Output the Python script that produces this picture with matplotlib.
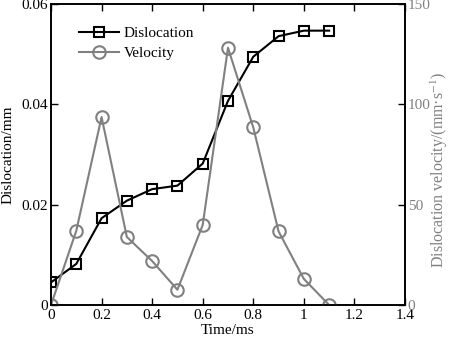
import matplotlib
matplotlib.use("Agg")
import matplotlib.pyplot as plt

plt.rcParams['font.family'] = ['Liberation Serif', 'DejaVu Serif']
plt.rcParams['font.size'] = 11
plt.rcParams['mathtext.fontset'] = 'stix'

time_ms = [0, 0.1, 0.2, 0.3, 0.4, 0.5, 0.6, 0.7, 0.8, 0.9, 1.0, 1.1]
dislocation = [0.0045, 0.0082, 0.0173, 0.0208, 0.0231, 0.0238, 0.0282,
               0.0407, 0.0495, 0.0536, 0.0547, 0.0547]
velocity = [0, 37, 93.7, 33.9, 21.9, 7.6, 39.9, 128.2, 88.5, 36.7, 13, 0]

x_ticks = [0, 0.2, 0.4, 0.6, 0.8, 1, 1.2, 1.4]
x_ticklabels = ['0', '0.2', '0.4', '0.6', '0.8', '1', '1.2', '1.4']
y_ticks = [0, 0.02, 0.04, 0.06]
y_ticklabels = ['0', '0.02', '0.04', '0.06']
v_ticks = [0, 50, 100, 150]

gray = '#808080'

fig = plt.figure(figsize=(4.53, 3.39), dpi=100)
ax = fig.add_axes([0.1126, 0.1003, 0.7814, 0.8877])
ax2 = ax.twinx()

l1, = ax.plot(time_ms, dislocation, color='black', lw=1.5, marker='s',
              ms=7.5, mfc='none', mec='black', mew=1.5, label='Dislocation')
l2, = ax2.plot(time_ms, velocity, color=gray, lw=1.5, marker='o',
               ms=9, mfc='none', mec=gray, mew=1.5, label='Velocity')

ax.set_xlim(0, 1.4)
ax.set_ylim(0, 0.06)
ax2.set_ylim(0, 150)

ax.set_xticks(x_ticks)
ax.set_xticklabels(x_ticklabels)
ax.set_yticks(y_ticks)
ax.set_yticklabels(y_ticklabels)
ax2.set_yticks(v_ticks)

ax.tick_params(direction='in', length=5, width=1, top=True, pad=2)
ax.tick_params(axis='x', pad=3)
ax2.tick_params(direction='in', length=5, width=1, labelcolor=gray, pad=2)

for s in ax.spines.values():
    s.set_linewidth(1.2)
for s in ax2.spines.values():
    s.set_linewidth(1.2)

ax.set_xlabel('Time/ms', labelpad=1)
ax.set_ylabel('Dislocation/mm', labelpad=5)
ax2.set_ylabel('Dislocation velocity/(mm·s$^{-1}$)', color=gray, fontsize=11.5)
ax2.yaxis.set_label_coords(1.068, 0.45)
ax2.yaxis.label.set_va('top')

ax.legend([l1, l2], ['Dislocation', 'Velocity'], loc='upper left',
          bbox_to_anchor=(0.05, 0.96), frameon=False, handlelength=2.6,
          handletextpad=0.3, labelspacing=0.4, borderaxespad=0.3)

fig.savefig('out.png', dpi=100)
